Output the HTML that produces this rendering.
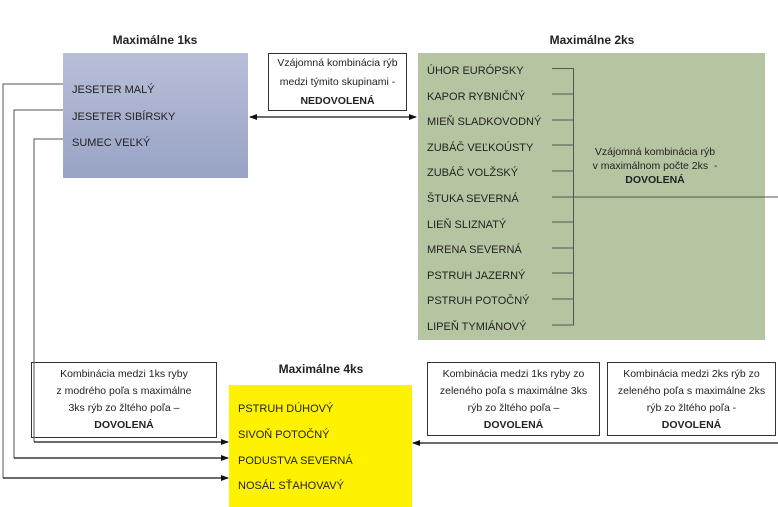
<!DOCTYPE html>
<html><head><meta charset="utf-8"><style>
body{margin:0;width:778px;height:507px;background:#fff;overflow:hidden;position:relative;font-family:"Liberation Sans Narrow","Liberation Sans",sans-serif;font-size:11px;color:#222}
.a{position:absolute}
.t{font-weight:bold;font-size:12px}
.b{position:absolute;border:1px solid #333;background:#fff;text-align:center;line-height:19px;font-size:10.5px;box-sizing:border-box}
.c{line-height:17px;padding-top:3px}
</style></head><body>
<div class="a t" style="left:100px;top:33px;width:110px;text-align:center">Maximálne 1ks</div>
<div class="a t" style="left:537px;top:33px;width:110px;text-align:center">Maximálne 2ks</div>
<div class="a t" style="left:266px;top:362px;width:110px;text-align:center">Maximálne 4ks</div>
<div class="a" style="left:63px;top:53px;width:185px;height:125px;background:linear-gradient(#b9bfd8,#98a3c5)"></div>
<div class="a" style="left:418px;top:53px;width:347px;height:287px;background:#b5c5a1"></div>
<div class="a" style="left:229px;top:385px;width:183px;height:122px;background:#fff200"></div>
<div class="b" style="left:268px;top:53px;width:139px;height:58px;padding-top:0px">Vzájomná kombinácia rýb<br>medzi týmito skupinami -<br><b>NEDOVOLENÁ</b></div>
<div class="b c" style="left:31px;top:362px;width:186px;height:76px">Kombinácia medzi 1ks ryby<br>z modrého poľa s maximálne<br>3ks rýb zo žltého poľa –<br><b>DOVOLENÁ</b></div>
<div class="b c" style="left:427px;top:362px;width:173px;height:74px">Kombinácia medzi 1ks ryby zo<br>zeleného poľa s maximálne 3ks<br>rýb zo žltého poľa –<br><b>DOVOLENÁ</b></div>
<div class="b c" style="left:607px;top:362px;width:169px;height:74px">Kombinácia medzi 2ks rýb zo<br>zeleného poľa s maximálne 2ks<br>rýb zo žltého poľa -<br><b>DOVOLENÁ</b></div>
<div class="a" style="left:72px;top:77px;line-height:26.5px">JESETER MALÝ<br>JESETER SIBÍRSKY<br>SUMEC VEĽKÝ</div>
<div class="a" style="left:427px;top:59px;line-height:25.6px">ÚHOR EURÓPSKY<br>KAPOR RYBNIČNÝ<br>MIEŇ SLADKOVODNÝ<br>ZUBÁČ VEĽKOÚSTY<br>ZUBÁČ VOLŽSKÝ<br>ŠTUKA SEVERNÁ<br>LIEŇ SLIZNATÝ<br>MRENA SEVERNÁ<br>PSTRUH JAZERNÝ<br>PSTRUH POTOČNÝ<br>LIPEŇ TYMIÁNOVÝ</div>
<div class="a" style="left:570px;top:145px;width:170px;text-align:center;line-height:14px;font-size:10.5px">Vzájomná kombinácia rýb<br>v maximálnom počte 2ks&nbsp; -<br><b>DOVOLENÁ</b></div>
<div class="a" style="left:238px;top:397px;line-height:25.8px">PSTRUH DÚHOVÝ<br>SIVOŇ POTOČNÝ<br>PODUSTVA SEVERNÁ<br>NOSÁĽ SŤAHOVAVÝ</div>
<svg class="a" style="left:0;top:0" width="778" height="507">
<defs><marker id="m" markerWidth="8" markerHeight="6" refX="7" refY="3" orient="auto-start-reverse" markerUnits="userSpaceOnUse"><path d="M0,0L8,3L0,6z" fill="#111"/></marker></defs>
<g fill="none" stroke="#555" stroke-width="1">
<path d="M552,68.5H573.5V325H552"/>
<path d="M552,94H573M552,120H573M552,145H573M552,171H573M552,222H573M552,248H573M552,273H573M552,299H573"/>
<path d="M552,197H778"/>
<path d="M63,84H3V478"/><path d="M63,110H14V458"/><path d="M63,139H34V442"/>
</g>
<g stroke="#111" stroke-width="1.3" fill="none">
<path d="M250,117H416" marker-start="url(#m)" marker-end="url(#m)"/>
<path d="M34,442H228" marker-end="url(#m)"/>
<path d="M14,458H228" marker-end="url(#m)"/>
<path d="M3,478H228" marker-end="url(#m)"/>
<path d="M778,443H413" marker-end="url(#m)"/>
</g>
</svg>
</body></html>
